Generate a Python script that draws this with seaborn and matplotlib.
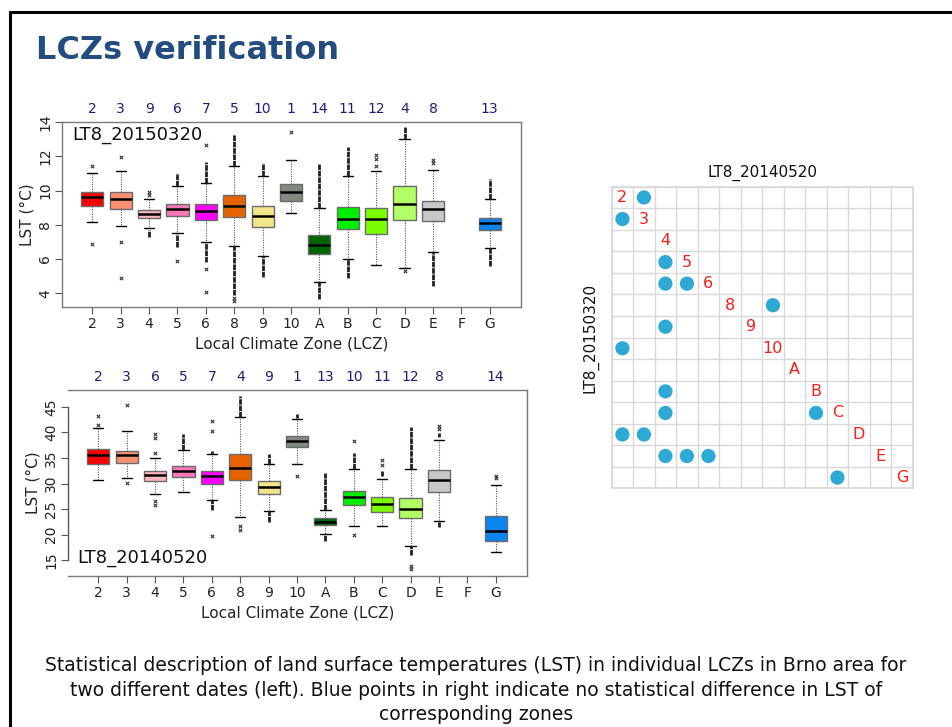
import numpy as np
import pandas as pd
import matplotlib.pyplot as plt
import seaborn as sns

sns.set_theme(style="white")
plt.rcParams["font.family"] = ["DejaVu Sans"]

# zone labels on the x axis (F has no data)
zones = ["2", "3", "4", "5", "6", "8", "9", "10", "A", "B", "C", "D", "E", "F", "G"]
data_zones = ["2", "3", "4", "5", "6", "8", "9", "10", "A", "B", "C", "D", "E", "G"]
box_colors = ["#FF0000", "#FA9070", "#FFB6C1", "#FA78B8", "#FF00FF", "#E66400",
              "#F2E68C", "#808A80", "#006400", "#00EE00", "#7CFC00", "#B2FF66",
              "#C8C8C8", "#0A84F0"]

# LT8_20150320
mar_counts = [2, 3, 9, 6, 7, 5, 10, 1, 14, 11, 12, 4, 8, 13]
mar_q1 = [9.08, 8.90, 8.40, 8.51, 8.30, 8.47, 7.87, 9.39, 6.28, 7.75, 7.48, 8.28, 8.20, 7.68]
mar_med = [9.62, 9.49, 8.61, 8.94, 8.80, 9.10, 8.51, 9.91, 6.80, 8.32, 8.32, 9.21, 8.94, 8.12]
mar_q3 = [9.91, 9.91, 8.88, 9.21, 9.19, 9.72, 9.12, 10.40, 7.39, 9.02, 8.96, 10.25, 9.37, 8.42]
mar_lo = [8.16, 7.91, 7.81, 7.52, 7.00, 6.76, 6.20, 8.67, 4.66, 6.00, 5.67, 5.46, 6.39, 6.67]
mar_hi = [11.04, 11.12, 9.49, 10.25, 10.46, 11.43, 10.83, 11.80, 9.00, 10.83, 11.12, 13.03, 11.22, 9.49]
mar_out = [[11.45, 6.88], [11.94, 7.0, 4.9], [9.9, 9.75], [5.89], [12.64, 5.4, 4.08],
           [3.75, 3.55], [], [13.42], [], [], [12.05, 11.85, 11.45], [5.3],
           [11.76, 11.6], []]
mar_dense = [[], [], [(7.3, 7.7)], [(10.25, 11.04), (6.7, 7.48)], [(10.46, 11.67), (5.83, 7.0)],
             [(11.43, 13.32), (3.9, 6.76)], [(10.83, 11.6), (4.95, 6.2)], [],
             [(9.0, 11.57), (3.65, 4.66)], [(10.83, 12.54), (4.9, 6.0)], [],
             [(13.03, 13.69)], [(4.4, 6.39)], [(9.49, 10.69), (5.6, 6.67)]]

# LT8_20140520
may_counts = [2, 3, 6, 5, 7, 4, 9, 1, 13, 10, 11, 12, 8, 14]
may_q1 = [33.8, 34.1, 30.4, 31.3, 30.0, 30.7, 28.0, 37.1, 21.8, 25.7, 24.4, 23.3, 28.4, 18.7]
may_med = [35.6, 35.5, 31.7, 32.4, 31.5, 33.1, 29.3, 38.3, 22.5, 27.3, 25.9, 25.0, 30.6, 20.7]
may_q3 = [36.8, 36.4, 32.5, 33.5, 32.4, 35.8, 30.5, 39.4, 23.2, 28.6, 27.3, 27.1, 32.6, 23.6]
may_lo = [30.7, 31.05, 27.9, 28.4, 26.7, 23.4, 24.6, 33.9, 20.1, 21.6, 21.7, 17.8, 22.7, 16.6]
may_hi = [40.8, 40.2, 35.0, 36.5, 35.8, 43.0, 33.8, 42.7, 24.8, 32.8, 30.9, 32.8, 38.6, 29.7]
may_out = [[43.2, 41.5], [45.3, 30.2], [39.6, 38.9, 36.0, 26.6, 25.8], [],
           [42.3, 40.2, 19.8], [21.6, 20.9], [], [31.5], [], [38.4, 20.0],
           [34.7, 33.6], [13.8, 13.2], [41.2, 40.6], [31.5, 31.0]]
may_dense = [[], [], [], [(36.6, 39.6)], [(35.8, 36.4), (24.8, 26.7)], [(43.0, 47.1)],
             [(33.8, 35.8), (22.5, 24.6)], [(42.8, 43.6)], [(24.8, 32.0), (18.8, 20.1)],
             [(32.8, 36.0)], [(31.4, 32.4)], [(32.8, 41.1), (16.0, 17.8)],
             [(39.2, 39.8), (21.4, 22.5)], []]

# matrix of zones with no statistical difference (row zone, column zone)
mat_labels = ["2", "3", "4", "5", "6", "8", "9", "10", "A", "B", "C", "D", "E", "G"]
pair_rows = ["2", "3", "5", "6", "6", "8", "9", "10", "B", "C", "C", "D", "D", "E", "E", "E", "G"]
pair_cols = ["3", "2", "4", "4", "5", "10", "4", "2", "4", "4", "B", "2", "3", "4", "5", "6", "C"]

positions = [zones.index(z) for z in data_zones]


def draw_panel(ax, q1, med, q3, lo, hi, out, dense, counts, ylim, yticks, label, label_xy):
    stats = [dict(q1=a, med=b, q3=c, whislo=d, whishi=e, fliers=[])
             for a, b, c, d, e in zip(q1, med, q3, lo, hi)]
    res = ax.bxp(stats, positions=positions, widths=0.78, patch_artist=True,
                 showfliers=False, capwidths=0.36,
                 boxprops=dict(edgecolor="#6b6b6b", linewidth=1.0),
                 medianprops=dict(color="black", linewidth=1.8),
                 whiskerprops=dict(color="#555555", linewidth=0.8, linestyle=(0, (1, 1.2))),
                 capprops=dict(color="black", linewidth=1.0))
    for patch, col in zip(res["boxes"], box_colors):
        patch.set_facecolor(col)

    # dense outlier columns
    for p, segs in zip(positions, dense):
        for a, b in segs:
            ax.vlines(p, a, b, color="#222222", linewidth=2.0,
                      linestyles=(0, (2, 0.3)), zorder=3)
    pts = pd.DataFrame([(p, v) for p, vals in zip(positions, out) for v in vals],
                       columns=["x", "y"])
    sns.scatterplot(data=pts, x="x", y="y", marker="x", s=6, color="#333333",
                    linewidth=0.8, ax=ax, zorder=3, legend=False)

    ax.set_xlim(-1.07, 15.1)
    ax.set_ylim(*ylim)
    ax.set_xticks(range(len(zones)))
    ax.set_xticklabels(zones, fontsize=10, color="#222222")
    ax.set_yticks(yticks)
    ax.set_yticklabels([str(t) for t in yticks], fontsize=10, color="#222222",
                       rotation=90, va="center")
    ax.tick_params(axis="both", which="major", length=5, width=0.8,
                   color="#555555", direction="out", bottom=True, left=True, pad=2)
    for s in ax.spines.values():
        s.set_color("#7a7a7a")
        s.set_linewidth(1.0)
    ax.set_xlabel("Local Climate Zone (LCZ)", fontsize=11, color="#222222", labelpad=4)
    ax.set_ylabel("LST (°C)", fontsize=11, color="#222222", labelpad=3)
    ax.grid(False)

    tr = ax.get_xaxis_transform()
    for p, c in zip(positions, counts):
        ax.text(p, 1.07, str(c), transform=tr, ha="center", va="center",
                fontsize=10, color="#1c1c80")
    ax.text(label_xy[0], label_xy[1], label, transform=ax.transAxes,
            ha="left", va="center", fontsize=13, color="#111111")


fig = plt.figure(figsize=(9.52, 7.27), dpi=100)

# slide frame
fig.add_artist(plt.Line2D([0.0108, 0.0108], [0.0, 0.984], transform=fig.transFigure,
                          color="black", linewidth=2.2))
fig.add_artist(plt.Line2D([0.0108, 1.0], [0.984, 0.984], transform=fig.transFigure,
                          color="black", linewidth=2.2))

fig.text(0.038, 0.93, "LCZs verification", fontsize=23, fontweight="bold",
         color="#234C80", ha="left", va="center")

ax1 = fig.add_axes([0.0651, 0.5777, 0.4821, 0.2545])
draw_panel(ax1, mar_q1, mar_med, mar_q3, mar_lo, mar_hi, mar_out, mar_dense,
           mar_counts, (3.2, 14.0), [4, 6, 8, 10, 12, 14], "LT8_20150320", (0.022, 0.93))

ax2 = fig.add_axes([0.0714, 0.2077, 0.4821, 0.2558])
draw_panel(ax2, may_q1, may_med, may_q3, may_lo, may_hi, may_out, may_dense,
           may_counts, (11.9, 48.3), [15, 20, 25, 30, 35, 40, 45], "LT8_20140520", (0.02, 0.097))
ax2.spines["left"].set_bounds(15, 45)
ax2.spines["left"].set_color("#555555")

# significance matrix
axm = fig.add_axes([0.6425, 0.3283, 0.3162, 0.4149])
pairs = pd.DataFrame({"row": [mat_labels.index(r) for r in pair_rows],
                      "col": [mat_labels.index(c) for c in pair_cols]})
sns.scatterplot(data=pairs, x="col", y="row", s=105, color="#2EA8D5",
                edgecolor="none", ax=axm, legend=False, zorder=3)
n = len(mat_labels)
axm.set_xlim(-0.5, n - 0.5)
axm.set_ylim(n - 0.5, -0.5)
axm.set_xticks(np.arange(-0.5, n, 1), minor=True)
axm.set_yticks(np.arange(-0.5, n, 1), minor=True)
axm.set_xticks([])
axm.set_yticks([])
axm.grid(which="minor", color="#d9d9d9", linewidth=1.0)
axm.tick_params(which="both", length=0)
for s in axm.spines.values():
    s.set_color("#d9d9d9")
for i, lab in enumerate(mat_labels):
    axm.text(i, i, lab, ha="center", va="center", fontsize=11.5, color="#FF1A1A", zorder=4)
axm.set_xlabel("")
axm.set_ylabel("LT8_20150320", fontsize=11, color="#111111", labelpad=6)
axm.set_title("LT8_20140520", fontsize=11, color="#111111", pad=7)

caption = ("Statistical description of land surface temperatures (LST) in individual LCZs in Brno area for\n"
           "two different dates (left). Blue points in right indicate no statistical difference in LST of\n"
           "corresponding zones")
fig.text(0.5, 0.097, caption, ha="center", va="top", fontsize=13.5,
         color="#111111", linespacing=1.35)

fig.savefig("out.png", dpi=100)
